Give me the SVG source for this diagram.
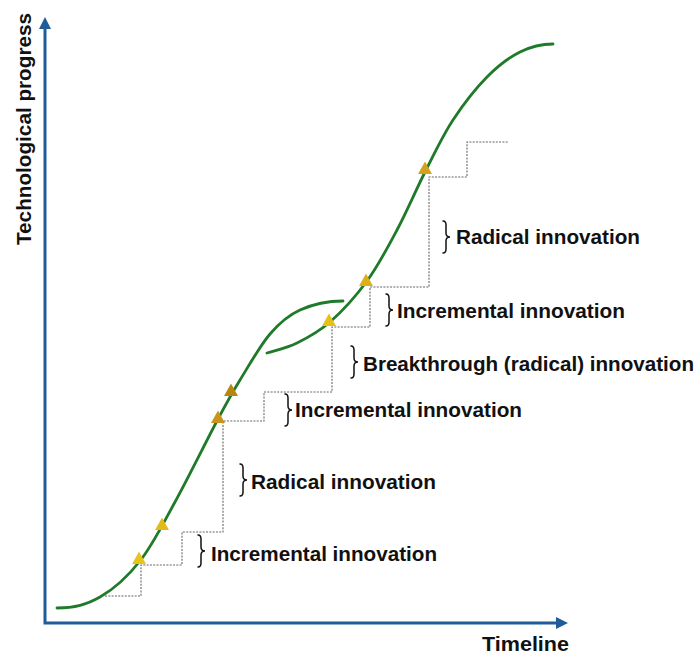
<svg xmlns="http://www.w3.org/2000/svg" width="698" height="656" viewBox="0 0 698 656">
  <style>
    .axis { fill: none; stroke: #1f5c99; stroke-width: 3; }
    .curve { fill: none; stroke: #1f7a2a; stroke-width: 2.8; stroke-linecap: round; }
    .step { fill: none; stroke: #666; stroke-width: 1.1; stroke-dasharray: 2 1.3; }
    .brace { fill: none; stroke: #111; stroke-width: 1.5; stroke-linecap: round; }
    .lbl { font-family: "Liberation Sans", Arial, sans-serif; font-weight: bold; font-size: 20px; fill: #111; }
  </style>
  <defs>
    <marker id="arrow" viewBox="0 0 12 12" markerUnits="userSpaceOnUse" markerWidth="12" markerHeight="14" refX="2" refY="6" orient="auto-start-reverse">
      <path d="M0,0 L12,6 L0,12 z" fill="#1f5c99"/>
    </marker>
    <path id="brace" class="brace" d="M0,-16 Q3,-16 3,-12 L3,-4 Q3,0 7,0 Q3,0 3,4 L3,12 Q3,16 0,16"/>
    <path id="tri" d="M0,-7.5 L7,5 L-7,5 z"/>
  </defs>

  <g id="axes">
    <path class="axis" d="M45,27 L45,623 L558,623" marker-start="url(#arrow)" marker-end="url(#arrow)"/>
    <text class="lbl" transform="translate(31,245) rotate(-90)" textLength="232" lengthAdjust="spacingAndGlyphs">Technological progress</text>
    <text class="lbl" x="482" y="651" textLength="87" lengthAdjust="spacingAndGlyphs">Timeline</text>
  </g>

  <g id="connectors">
    <path id="curve1" class="curve" d="M57,608 C75,608 86.2,604.8 100,597 C113.8,589.2 127.5,576.8 140,561 C152.5,545.2 162,525.7 175,502 C188,478.3 207.2,439.3 218,419 C228.8,398.7 231.3,394.2 240,380 C248.7,365.8 260,345.7 270,334 C280,322.3 287.8,315.5 300,310 C312.2,304.5 325,301 343,301"/>
    <path id="curve2" class="curve" d="M267,353 C277,350 286.5,348.2 297,343 C307.5,337.8 318.3,332.3 330,322 C341.7,311.7 355.8,296.3 367,281 C378.2,265.7 387.2,248.5 397,230 C406.8,211.5 416.7,188.3 426,170 C435.3,151.7 442.8,135.5 453,120 C463.2,104.5 475.8,88.3 487,77 C498.2,65.7 509,57.5 520,52 C531,46.5 542,44 553,44"/>
    <path id="steps" class="step" d="M105,596 L141,596 L141,565 L182,565 L182,532 L223,532 L223,421 L264,421 L264,392 L332,392 L332,327 L370,327 L370,287 L429,287 L429,177 L467,177 L467,142 L509,142"/>
  </g>

  <g id="milestones">
    <use id="m1" href="#tri" transform="translate(139,559)" fill="#e8c41b"/>
    <use id="m2" href="#tri" transform="translate(162,525)" fill="#e2bb1a"/>
    <use id="m3" href="#tri" transform="translate(218,418)" fill="#c8951a"/>
    <use id="m4" href="#tri" transform="translate(231,391)" fill="#b8860f"/>
    <use id="m5" href="#tri" transform="translate(329,321)" fill="#e6c019"/>
    <use id="m6" href="#tri" transform="translate(366,281)" fill="#dcb01a"/>
    <use id="m7" href="#tri" transform="translate(425,169)" fill="#d4a21c"/>
  </g>

  <g id="label-incr1">
    <use href="#brace" transform="translate(198,551)"/>
    <text class="lbl" x="211" y="561" textLength="226" lengthAdjust="spacingAndGlyphs">Incremental innovation</text>
  </g>
  <g id="label-rad1">
    <use href="#brace" transform="translate(240,480)"/>
    <text class="lbl" x="251" y="489" textLength="185" lengthAdjust="spacingAndGlyphs">Radical innovation</text>
  </g>
  <g id="label-incr2">
    <use href="#brace" transform="translate(285,410)"/>
    <text class="lbl" x="295" y="417" textLength="227" lengthAdjust="spacingAndGlyphs">Incremental innovation</text>
  </g>
  <g id="label-break">
    <use href="#brace" transform="translate(351,362)"/>
    <text class="lbl" x="363" y="371" textLength="331" lengthAdjust="spacingAndGlyphs">Breakthrough (radical) innovation</text>
  </g>
  <g id="label-incr3">
    <use href="#brace" transform="translate(386,310)"/>
    <text class="lbl" x="397" y="318" textLength="228" lengthAdjust="spacingAndGlyphs">Incremental innovation</text>
  </g>
  <g id="label-rad2">
    <use href="#brace" transform="translate(443,237)"/>
    <text class="lbl" x="456" y="244" textLength="184" lengthAdjust="spacingAndGlyphs">Radical innovation</text>
  </g>
</svg>
